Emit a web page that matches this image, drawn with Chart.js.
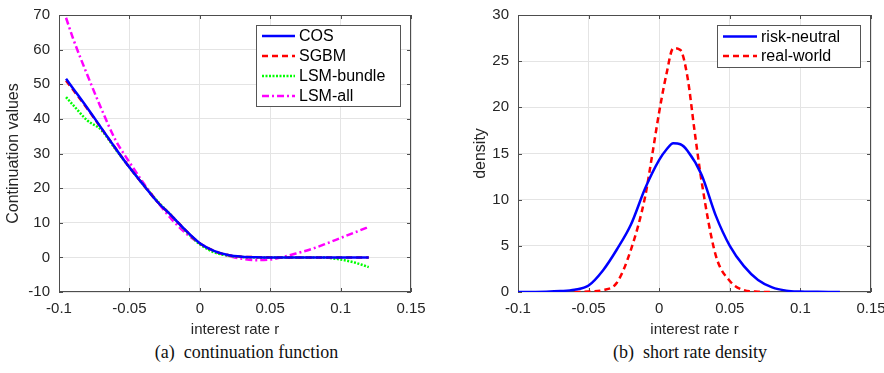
<!DOCTYPE html>
<html lang="en">
<head>
<meta charset="UTF-8">
<title>continuation function / short rate density</title>
<script src="https://cdn.jsdelivr.net/npm/chart.js@4/dist/chart.umd.min.js"></script>
<style>
  body { margin: 0; background: #fff; }
  #page { position: relative; width: 884px; height: 373px; overflow: hidden; }
  .panel { position: absolute; top: 0; width: 442px; height: 340px; }
  .cap { position: absolute; top: 341px; line-height: 22px; text-align: center;
         font-family: "Liberation Serif", serif; font-size: 18px; color: #111; white-space: pre; }
</style>
</head>
<body>
<div id="page">
  <div class="panel" style="left:0"><canvas id="left" width="442" height="340"></canvas></div>
  <div class="panel" style="left:442px"><canvas id="right" width="442" height="340"></canvas></div>
  <div class="cap" style="left:0;width:493px">(a)  continuation function</div>
  <div class="cap" style="left:442px;width:496px">(b)  short rate density</div>
</div>

<script>
// axes
var xTicks = [-0.1, -0.05, 0, 0.05, 0.1, 0.15];
var xTickLabels = ['-0.1', '-0.05', '0', '0.05', '0.1', '0.15'];
var yTicksLeft = [-10, 0, 10, 20, 30, 40, 50, 60, 70];
var yTicksRight = [0, 5, 10, 15, 20, 25, 30];

// (a) continuation values
var rLeft     = [-0.095, -0.09, -0.08, -0.07, -0.06, -0.05, -0.04, -0.03, -0.02, -0.01, 0, 0.01, 0.02, 0.03, 0.04, 0.05, 0.06, 0.07, 0.08, 0.09, 0.1, 0.11, 0.12];
var cos       = [51.6, 48.8, 43.2, 37.4, 31.6, 26.0, 20.9, 16.0, 12.0, 7.8, 4.1, 1.9, 0.7, 0.2, 0.05, 0, 0, 0, 0, 0, 0, 0, 0];
var sgbm      = [51.0, 48.4, 43.0, 37.3, 31.6, 26.0, 20.9, 16.0, 12.0, 7.8, 4.1, 1.9, 0.7, 0.2, 0.05, 0, 0, 0, 0, 0, 0, 0, 0];
var lsmBundle = [46.3, 44.0, 39.6, 36.8, 31.3, 26.0, 21.0, 16.2, 12.0, 7.6, 3.8, 1.5, 0.5, 0.1, 0, 0, 0, 0, 0, -0.1, -0.6, -1.5, -2.8];
var lsmAll    = [69.2, 63.2, 52.8, 43.0, 34.0, 27.5, 21.5, 16.0, 11.0, 7.0, 4.0, 1.8, 0.4, -0.4, -0.8, -0.6, 0.2, 1.3, 2.5, 4.0, 5.6, 7.2, 8.8];

// (b) short rate densities
var rRN         = [-0.1, -0.09, -0.08, -0.07, -0.06, -0.05, -0.04, -0.03, -0.02, -0.01, 0, 0.005, 0.01, 0.015, 0.02, 0.03, 0.04, 0.05, 0.06, 0.07, 0.08, 0.09, 0.1, 0.11, 0.12, 0.128];
var riskNeutral = [0, 0.01, 0.03, 0.1, 0.25, 0.7, 2.3, 4.6, 7.3, 11.2, 14.3, 15.4, 16.1, 16.0, 15.3, 12.7, 8.3, 5.0, 2.8, 1.3, 0.5, 0.15, 0.05, 0.02, 0, 0];
var rRW         = [-0.06, -0.05, -0.04, -0.03, -0.02, -0.01, -0.005, 0, 0.005, 0.01, 0.015, 0.02, 0.025, 0.03, 0.04, 0.05, 0.06, 0.07, 0.08];
var realWorld   = [0, 0.05, 0.2, 1.0, 4.6, 10.3, 14.8, 19.5, 23.5, 26.4, 26.2, 23.3, 17.5, 12.0, 4.0, 1.2, 0.2, 0.03, 0];

function pts(xs, ys) {
  return xs.map(function(x, i) { return {x: x, y: ys[i]}; });
}

var sansFont = 'Liberation Sans, Arial, sans-serif';

// matlab style box with inward ticks + boxed legend
var frameAndLegend = {
  id: 'frameAndLegend',
  beforeDatasetsDraw: function(chart) {
    var a = chart.chartArea, ctx = chart.ctx;
    var xs = chart.scales.x, ys = chart.scales.y;
    ctx.save();
    ctx.strokeStyle = '#4d4d4d';
    ctx.lineWidth = 1;
    ctx.beginPath();
    xs.ticks.forEach(function(t) {
      var p = Math.round(xs.getPixelForValue(t.value)) + 0.5;
      ctx.moveTo(p, a.bottom); ctx.lineTo(p, a.bottom - 4);
      ctx.moveTo(p, a.top); ctx.lineTo(p, a.top + 4);
    });
    ys.ticks.forEach(function(t) {
      var p = Math.round(ys.getPixelForValue(t.value)) + 0.5;
      ctx.moveTo(a.left, p); ctx.lineTo(a.left + 4, p);
      ctx.moveTo(a.right, p); ctx.lineTo(a.right - 4, p);
    });
    ctx.stroke();
    ctx.strokeRect(Math.round(a.left) + 0.5, Math.round(a.top) + 0.5,
                   Math.round(a.right - a.left) - 1, Math.round(a.bottom - a.top) - 1);
    ctx.restore();
  },
  afterDraw: function(chart, args, o) {
    var ctx = chart.ctx;
    ctx.save();
    ctx.fillStyle = '#fff';
    ctx.fillRect(o.x, o.y, o.w, o.h);
    ctx.strokeStyle = '#555';
    ctx.lineWidth = 1;
    ctx.strokeRect(o.x + 0.5, o.y + 0.5, o.w, o.h);
    ctx.font = '16px ' + sansFont;
    ctx.textBaseline = 'middle';
    ctx.fillStyle = '#000';
    chart.data.datasets.forEach(function(ds, i) {
      var yy = o.y + o.first + i * o.step;
      ctx.beginPath();
      ctx.setLineDash(ds.borderDash || []);
      ctx.strokeStyle = ds.borderColor;
      ctx.lineWidth = ds.borderWidth;
      ctx.moveTo(o.x + 6, yy);
      ctx.lineTo(o.x + 6 + o.len, yy);
      ctx.stroke();
      ctx.setLineDash([]);
      ctx.fillText(ds.label, o.x + 10 + o.len, yy + 1);
    });
    ctx.restore();
  }
};

function axes(yMin, yMax, yTicks, yTitle, yTitleFont, yTitlePad, yWidth) {
  return {
    x: {
      type: 'linear', min: -0.1, max: 0.15,
      afterBuildTicks: function(s) { s.ticks = xTicks.map(function(v) { return {value: v}; }); },
      afterFit: function(s) { s.height = 47; s.paddingLeft = 0; s.paddingRight = 0; },
      grid: { color: '#e4e4e4', drawTicks: false },
      border: { display: false },
      ticks: {
        padding: 8, maxRotation: 0, autoSkip: false, color: '#262626',
        font: { family: sansFont, size: 15 },
        callback: function(v, i) { return xTickLabels[i]; }
      },
      title: { display: true, text: 'interest rate r', color: '#262626',
               font: { family: sansFont, size: 15 }, padding: { top: 0, bottom: 0 } }
    },
    y: {
      type: 'linear', min: yMin, max: yMax,
      afterBuildTicks: function(s) { s.ticks = yTicks.map(function(v) { return {value: v}; }); },
      afterFit: function(s) { s.width = yWidth; s.paddingTop = 0; s.paddingBottom = 0; },
      grid: { color: '#e4e4e4', drawTicks: false },
      border: { display: false },
      ticks: {
        padding: 9, color: '#262626',
        font: { family: sansFont, size: 15 },
        callback: function(v) { return String(v); }
      },
      title: { display: true, text: yTitle, color: '#262626',
               font: { family: sansFont, size: yTitleFont }, padding: { top: yTitlePad, bottom: 0 } }
    }
  };
}

window.onload = function() {
  new Chart(document.getElementById('left').getContext('2d'), {
    type: 'line',
    data: {
      datasets: [
        { label: 'COS', data: pts(rLeft, cos), borderColor: '#0000ff', borderWidth: 2.5 },
        { label: 'SGBM', data: pts(rLeft, sgbm), borderColor: '#ff0000', borderWidth: 2.5, borderDash: [6, 4] },
        { label: 'LSM-bundle', data: pts(rLeft, lsmBundle), borderColor: '#00ff00', borderWidth: 2.5, borderDash: [2, 1.5] },
        { label: 'LSM-all', data: pts(rLeft, lsmAll), borderColor: '#ff00ff', borderWidth: 2.5, borderDash: [7, 3, 2, 3] }
      ]
    },
    options: {
      responsive: false, animation: false,
      layout: { padding: { left: 1, top: 15, right: 31, bottom: 1 } },
      elements: { point: { radius: 0 }, line: { cubicInterpolationMode: 'monotone', fill: false } },
      scales: axes(-10, 70, yTicksLeft, 'Continuation values', 16, 3, 58),
      plugins: {
        legend: { display: false }, tooltip: { enabled: false },
        frameAndLegend: { x: 256, y: 25, w: 144, h: 81, first: 11, step: 20, len: 33 }
      }
    },
    plugins: [frameAndLegend]
  });

  new Chart(document.getElementById('right').getContext('2d'), {
    type: 'line',
    data: {
      datasets: [
        { label: 'risk-neutral', data: pts(rRN, riskNeutral), borderColor: '#0000ff', borderWidth: 2.5 },
        { label: 'real-world', data: pts(rRW, realWorld), borderColor: '#ff0000', borderWidth: 2.5, borderDash: [6, 4] }
      ]
    },
    options: {
      responsive: false, animation: false,
      layout: { padding: { left: 26, top: 15, right: 13, bottom: 1 } },
      elements: { point: { radius: 0 }, line: { cubicInterpolationMode: 'monotone', fill: false } },
      scales: axes(0, 30, yTicksRight, 'density', 16, 2.5, 50),
      plugins: {
        legend: { display: false }, tooltip: { enabled: false },
        frameAndLegend: { x: 275, y: 25, w: 143, h: 42, first: 11.5, step: 19.5, len: 34 }
      }
    },
    plugins: [frameAndLegend]
  });
};
</script>
</body>
</html>
